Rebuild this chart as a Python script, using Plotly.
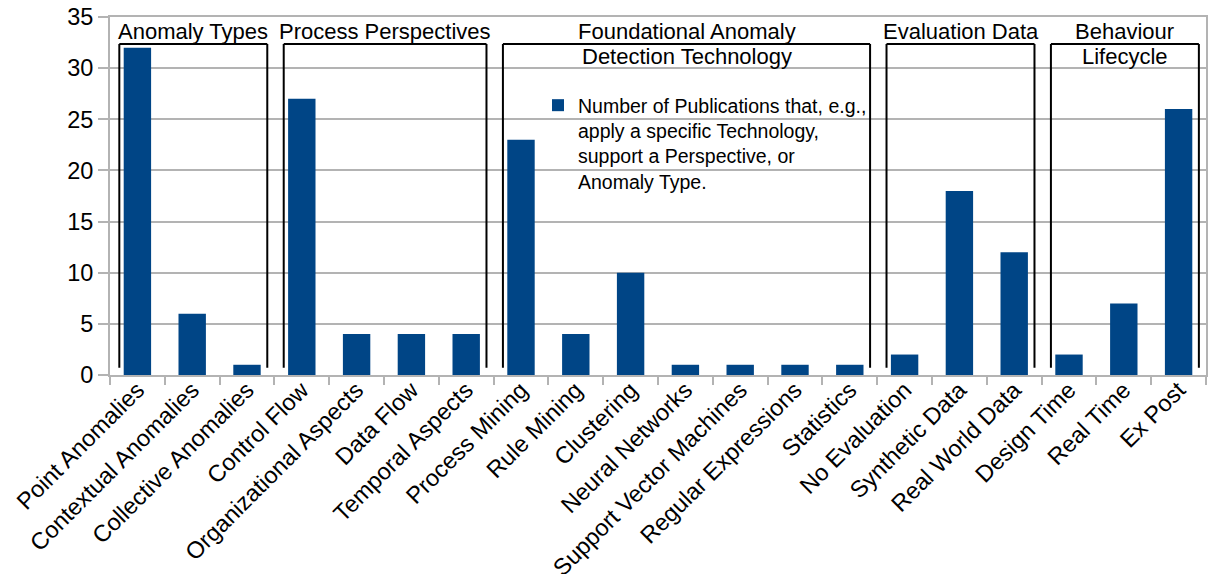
import plotly.graph_objects as go

categories = ["Point Anomalies", "Contextual Anomalies", "Collective Anomalies",
              "Control Flow", "Organizational Aspects", "Data Flow", "Temporal Aspects",
              "Process Mining", "Rule Mining", "Clustering", "Neural Networks",
              "Support Vector Machines", "Regular Expressions", "Statistics",
              "No Evaluation", "Synthetic Data", "Real World Data",
              "Design Time", "Real Time", "Ex Post"]
values = [32, 6, 1, 27, 4, 4, 4, 23, 4, 10, 1, 1, 1, 1, 2, 18, 12, 2, 7, 26]

group_titles = [["Anomaly Types"], ["Process Perspectives"],
                ["Foundational Anomaly", "Detection Technology"],
                ["Evaluation Data"], ["Behaviour", "Lifecycle"]]
group_start = [0, 3, 7, 14, 17]
group_end = [2, 6, 13, 16, 19]

series_name = "Number of Publications that, e.g.,<br>apply a specific Technology,<br>support a Perspective, or<br>Anomaly Type."

FONT = "Liberation Sans, Arial, sans-serif"
GRID = "#b3b3b3"

fig = go.Figure()
fig.add_trace(go.Bar(x=categories, y=values, name=series_name,
                     marker=dict(color="#004586", line=dict(width=0)),
                     showlegend=True))

box_top = 32.35
box_bottom = 0.7
shapes = []
annotations = []
for titles, s, e in zip(group_titles, group_start, group_end):
    x0 = s - 0.33
    x1 = e + 0.37
    line = dict(color="black", width=2)
    shapes.append(dict(type="line", xref="x", yref="y", x0=x0, x1=x0, y0=box_bottom, y1=box_top, line=line))
    shapes.append(dict(type="line", xref="x", yref="y", x0=x1, x1=x1, y0=box_bottom, y1=box_top, line=line))
    shapes.append(dict(type="line", xref="x", yref="y", x0=x0, x1=x1, y0=box_top, y1=box_top, line=line))
    xc = (x0 + x1) / 2
    for k, t in enumerate(titles):
        annotations.append(dict(x=xc, y=33.55 - k * 2.45, xref="x", yref="y", text=t,
                                showarrow=False, xanchor="center", yanchor="middle",
                                font=dict(family=FONT, size=22, color="black")))

fig.update_layout(
    width=1212, height=574,
    margin=dict(l=110, r=6, t=17, b=199),
    paper_bgcolor="white", plot_bgcolor="white",
    font=dict(family=FONT, color="black"),
    bargap=0.5,
    shapes=shapes,
    annotations=annotations,
    legend=dict(x=(538 - 110) / 1096, y=1 - (86 - 17) / 358, xanchor="left", yanchor="top",
                valign="top", bgcolor="rgba(0,0,0,0)",
                font=dict(family=FONT, size=19.5, color="black"),
                tracegroupgap=0),
    xaxis=dict(type="category", tickangle=-45, tickson="boundaries", automargin=False,
               ticks="outside", ticklen=8, tickcolor=GRID, tickwidth=2,
               ticklabelstandoff=-10,
               showline=True, linecolor=GRID, linewidth=2, mirror=True,
               showgrid=False, tickfont=dict(family=FONT, size=23.5, color="black"),
               range=[-0.5, 19.5]),
    yaxis=dict(range=[0, 35], dtick=5, tick0=0, ticks="outside", ticklen=10, automargin=False,
               tickcolor=GRID, tickwidth=2, showgrid=True, gridcolor=GRID, gridwidth=2,
               showline=True, linecolor=GRID, linewidth=2, mirror=True,
               zeroline=False, tickfont=dict(family=FONT, size=23.5, color="black")),
)

fig.write_html("out.html", config={"displayModeBar": False},
               post_script="document.body.style.margin='0';document.body.style.padding='0';document.body.style.overflow='hidden';")
